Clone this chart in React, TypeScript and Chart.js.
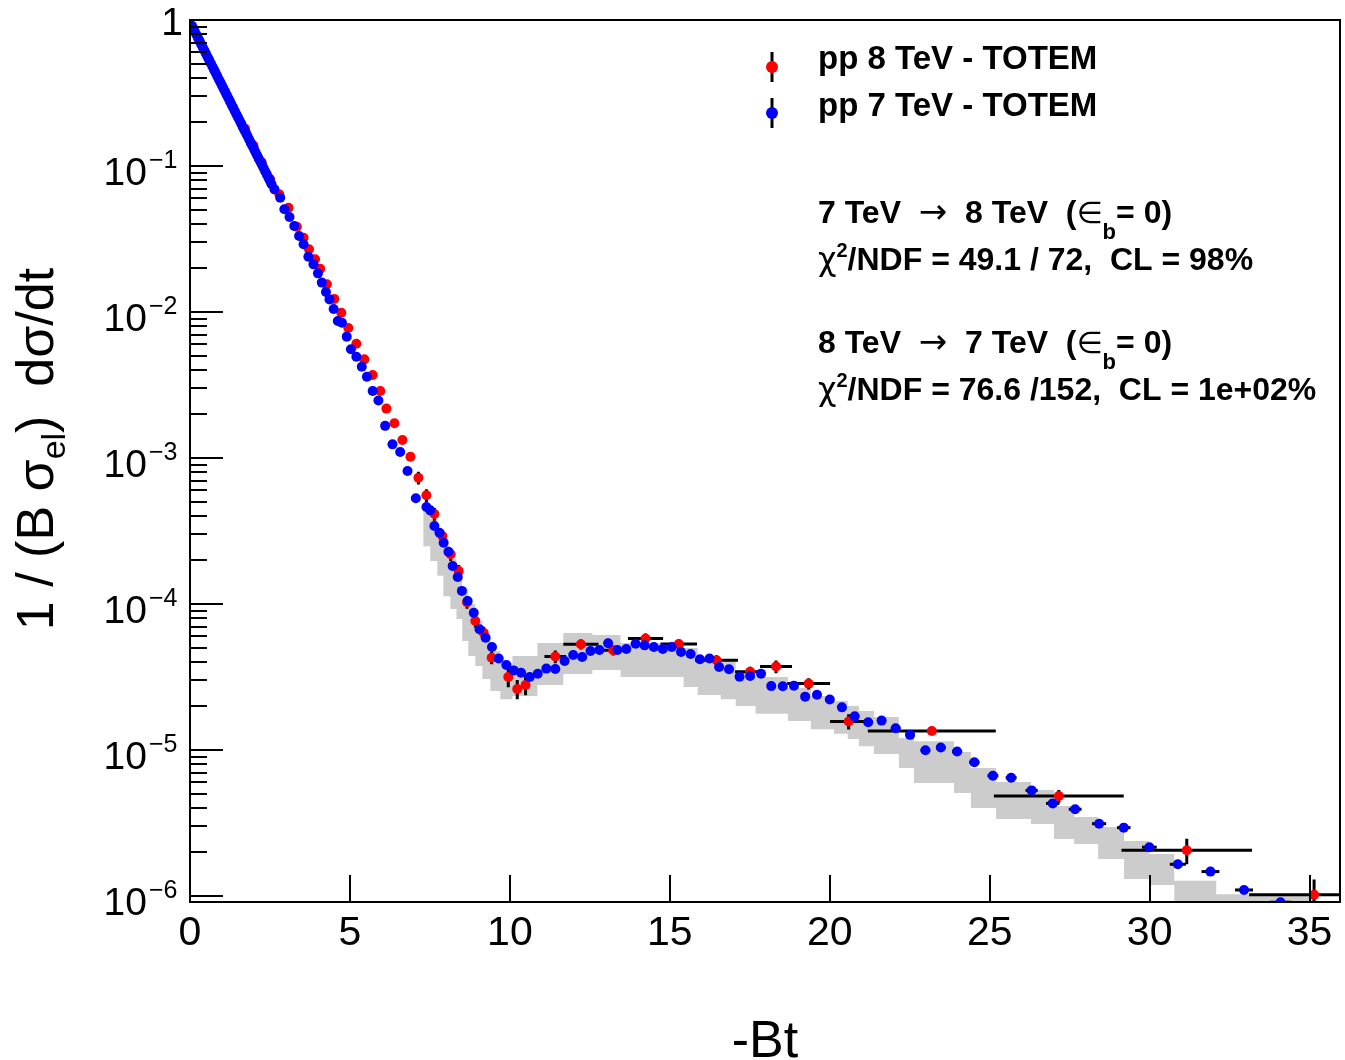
import React, { useEffect, useRef } from 'react';
import { Chart, registerables } from 'chart.js';

Chart.register(...registerables);

// ---------------- data ----------------
const xTickValues = [0, 5, 10, 15, 20, 25, 30, 35];
const yDecades = [0, -1, -2, -3, -4, -5, -6];
const X_MIN = 0;
const X_MAX = 35.95;
const Y_MIN = 9.1e-7;
const Y_MAX = 1;

const legendLabels = ['pp 8 TeV - TOTEM', 'pp 7 TeV - TOTEM'];
const xTitle = '-Bt';

// pp 7 TeV - TOTEM (blue)
const blueX = [
  0.06, 0.10, 0.15, 0.20, 0.25, 0.30, 0.35, 0.40, 0.45, 0.50,
  0.55, 0.60, 0.65, 0.70, 0.75, 0.80, 0.85, 0.90, 0.95, 1.00,
  1.05, 1.10, 1.15, 1.20, 1.25, 1.30, 1.35, 1.40, 1.45, 1.50,
  1.55, 1.60, 1.65, 1.70, 1.75, 1.80, 1.85, 1.90, 1.95, 2.00,
  2.05, 2.10, 2.15, 2.20, 2.25, 2.30, 2.35, 2.40, 2.45, 2.50, 2.55,
  2.64, 2.82, 2.95, 3.11, 3.26, 3.41, 3.55, 3.70, 3.86, 4.00,
  4.12, 4.25, 4.36, 4.49, 4.62, 4.75, 4.90, 5.03, 5.20, 5.37,
  5.53, 5.71, 5.89, 6.10, 6.33, 6.57, 6.80, 7.06, 7.39, 7.51,
  7.64, 7.80, 7.93, 8.08, 8.21, 8.37, 8.50, 8.68, 8.87, 9.05,
  9.24, 9.44, 9.65, 9.89, 10.12, 10.35, 10.62, 10.87, 11.14, 11.42,
  11.71, 11.98, 12.26, 12.52, 12.80, 13.07, 13.36, 13.64, 13.93, 14.21,
  14.50, 14.78, 15.06, 15.35, 15.65, 15.94, 16.24, 16.54, 16.85, 17.18,
  17.51, 17.85, 18.17, 18.53, 18.88, 19.23, 19.60, 20.00, 20.38, 20.78,
  21.20, 21.62, 22.06, 22.51, 22.99, 23.47, 23.98, 24.52, 25.10, 25.67,
  26.31, 26.97, 27.67, 28.42, 29.19, 29.99, 30.88, 31.90, 32.95, 34.09,
];
const blueY = [
  0.912, 0.876, 0.834, 0.793, 0.754, 0.717, 0.682, 0.649, 0.617, 0.587,
  0.558, 0.531, 0.505, 0.48, 0.457, 0.435, 0.413, 0.393, 0.374, 0.356,
  0.338, 0.322, 0.306, 0.291, 0.277, 0.263, 0.251, 0.238, 0.226, 0.216,
  0.205, 0.195, 0.185, 0.176, 0.168, 0.16, 0.152, 0.144, 0.137, 0.131,
  0.124, 0.118, 0.112, 0.107, 0.102, 0.0968, 0.092, 0.0876, 0.083, 0.0792, 0.075,
  0.0692, 0.0607, 0.0505, 0.0448, 0.0388, 0.0332, 0.0291, 0.0239, 0.0212, 0.0184,
  0.0159, 0.0137, 0.0122, 0.0105, 0.00867, 0.00845, 0.00678, 0.00556, 0.00494, 0.00422,
  0.0036, 0.00288, 0.00248, 0.00166, 0.00124, 0.0011, 8.15e-4, 5.3e-4, 4.62e-4, 4.38e-4,
  3.42e-4, 3.08e-4, 2.63e-4, 2.28e-4, 1.82e-4, 1.53e-4, 1.23e-4, 1.05e-4, 8.72e-5, 6.71e-5,
  5.88e-5, 5.07e-5, 4.24e-5, 3.82e-5, 3.51e-5, 3.38e-5, 3.16e-5, 3.33e-5, 3.61e-5, 3.59e-5,
  4.07e-5, 4.47e-5, 4.34e-5, 4.77e-5, 4.84e-5, 5.38e-5, 4.84e-5, 4.92e-5, 5.35e-5, 5.21e-5,
  5.07e-5, 4.92e-5, 5.07e-5, 4.69e-5, 4.55e-5, 4.18e-5, 4.24e-5, 3.7e-5, 3.57e-5, 3.18e-5,
  3.21e-5, 3.33e-5, 2.74e-5, 2.73e-5, 2.76e-5, 2.32e-5, 2.39e-5, 2.22e-5, 1.96e-5, 1.7e-5,
  1.55e-5, 1.59e-5, 1.41e-5, 1.27e-5, 9.96e-6, 1.04e-5, 9.77e-6, 8.25e-6, 6.67e-6, 6.46e-6,
  5.29e-6, 4.31e-6, 3.93e-6, 3.13e-6, 2.94e-6, 2.16e-6, 1.65e-6, 1.47e-6, 1.1e-6, 9.07e-7,
];
const blueXErr = [
  0, 0, 0, 0, 0, 0, 0, 0, 0, 0,
  0, 0, 0, 0, 0, 0, 0, 0, 0, 0,
  0, 0, 0, 0, 0, 0, 0, 0, 0, 0,
  0, 0, 0, 0, 0, 0, 0, 0, 0, 0,
  0, 0, 0, 0, 0, 0, 0, 0, 0, 0, 0,
  0.05, 0.05, 0.05, 0.05, 0.05, 0.05, 0.05, 0.05, 0.05, 0.05,
  0.05, 0.05, 0.05, 0.05, 0.05, 0.05, 0.05, 0.05, 0.05, 0.05,
  0.05, 0.05, 0.05, 0.05, 0.05, 0.05, 0.05, 0.08, 0.08, 0.08,
  0.08, 0.08, 0.08, 0.08, 0.08, 0.08, 0.08, 0.08, 0.08, 0.08,
  0.1, 0.1, 0.1, 0.1, 0.1, 0.1, 0.1, 0.1, 0.1, 0.1,
  0.12, 0.12, 0.12, 0.12, 0.12, 0.12, 0.12, 0.12, 0.12, 0.12,
  0.12, 0.12, 0.12, 0.12, 0.12, 0.12, 0.12, 0.12, 0.12, 0.12,
  0.13, 0.13, 0.13, 0.13, 0.13, 0.13, 0.13, 0.13, 0.13, 0.13,
  0.14, 0.14, 0.15, 0.15, 0.15, 0.15, 0.16, 0.16, 0.17, 0.17,
  0.19, 0.21, 0.2, 0.22, 0.21, 0.23, 0.25, 0.28, 0.28, 0.34,
];

// pp 8 TeV - TOTEM (red)
const redX = [
  1.72, 1.98, 2.24, 2.5, 2.79, 3.08, 3.34, 3.55, 3.72, 3.91,
  4.07, 4.28, 4.51, 4.73, 4.95, 5.2, 5.45, 5.71, 5.95, 6.14,
  6.39, 6.64, 6.89, 7.14, 7.39, 7.64, 7.89, 8.15, 8.4, 8.66,
  8.92, 9.18, 9.43, 9.95, 10.23, 10.49, 11.42, 12.22, 13.23, 14.24,
  15.28, 16.46, 17.51, 18.32, 19.34, 20.59, 23.19, 27.16, 31.16, 35.14,
];
const redY = [
  0.18, 0.138, 0.106, 0.0815, 0.064, 0.0518, 0.0384, 0.0323, 0.0269, 0.023,
  0.0198, 0.0155, 0.0123, 0.00989, 0.00777, 0.00607, 0.00474, 0.0037, 0.00288, 0.00218,
  0.00173, 0.00133, 0.00102, 7.33e-4, 5.56e-4, 4.13e-4, 2.92e-4, 2.19e-4, 1.68e-4, 1.03e-4,
  7.66e-5, 6.36e-5, 4.29e-5, 3.16e-5, 2.62e-5, 2.79e-5, 4.37e-5, 5.3e-5, 4.82e-5, 5.81e-5,
  5.32e-5, 4.12e-5, 3.44e-5, 3.73e-5, 2.85e-5, 1.57e-5, 1.35e-5, 4.84e-6, 2.06e-6, 1.02e-6,
];
const redXErr = [
  0.05, 0.05, 0.05, 0.05, 0.05, 0.05, 0.05, 0.05, 0.05, 0.05,
  0.05, 0.05, 0.05, 0.05, 0.05, 0.05, 0.05, 0.05, 0.05, 0.05,
  0.05, 0.05, 0.05, 0.12, 0.12, 0.12, 0.12, 0.12, 0.12, 0.12,
  0.12, 0.12, 0.12, 0.12, 0.12, 0.12, 0.34, 0.55, 0.45, 0.55,
  0.57, 0.67, 0.47, 0.5, 0.67, 0.58, 2.0, 2.03, 2.04, 2.03,
];
const redYErr = [
  0.02, 0.02, 0.02, 0.02, 0.02, 0.02, 0.02, 0.02, 0.02, 0.02,
  0.02, 0.02, 0.02, 0.02, 0.02, 0.02, 0.02, 0.02, 0.02, 0.02,
  0.02, 0.02, 0.02, 0.1, 0.1, 0.1, 0.1, 0.1, 0.1, 0.1,
  0.1, 0.1, 0.1, 0.15, 0.15, 0.15, 0.1, 0.08, 0.08, 0.08,
  0.08, 0.08, 0.08, 0.1, 0.09, 0.12, 0.05, 0.1, 0.2, 0.27,
];

// grey uncertainty band (stepped): left edges + final right edge
const bandEdges = [
  7.29, 7.51, 7.73, 7.92, 8.14, 8.33, 8.51, 8.7, 8.92, 9.14,
  9.39, 9.7, 10.08, 10.86, 11.67, 12.58, 13.46, 15.43, 15.87, 16.59,
  17.06, 17.68, 18.69, 19.41, 20.13, 20.56, 20.91, 21.38, 22.16, 22.63,
  23.88, 24.41, 25.2, 26.29, 27.01, 27.64, 28.39, 29.2, 29.98, 30.77,
  32.08, 33.8, 35.12,
];
const bandHi = [
  5.07e-4, 4.48e-4, 3.82e-4, 3.16e-4, 2.49e-4, 2.03e-4, 1.63e-4, 1.27e-4, 1.0e-4, 7.65e-5,
  6.04e-5, 4.77e-5, 3.94e-5, 4.4e-5, 5.41e-5, 6.33e-5, 6.13e-5, 5.41e-5, 5.0e-5, 4.27e-5,
  4.07e-5, 3.37e-5, 3.16e-5, 2.66e-5, 2.34e-5, 2.17e-5, 2.0e-5, 1.85e-5, 1.68e-5, 1.21e-5,
  1.15e-5, 9.68e-6, 7.53e-6, 6.04e-6, 5.32e-6, 4.13e-6, 3.48e-6, 2.97e-6, 2.38e-6, 1.94e-6,
  1.27e-6, 1.03e-6,
];
const bandLo = [
  3.06e-4, 2.49e-4, 1.97e-4, 1.56e-4, 1.13e-4, 9.25e-5, 7.89e-5, 5.58e-5, 4.4e-5, 3.76e-5,
  3.06e-5, 2.54e-5, 2.23e-5, 2.34e-5, 2.79e-5, 3.32e-5, 3.53e-5, 3.16e-5, 2.7e-5, 2.38e-5,
  2.23e-5, 2.0e-5, 1.77e-5, 1.58e-5, 1.39e-5, 1.29e-5, 1.19e-5, 1.06e-5, 9.39e-6, 7.53e-6,
  5.95e-6, 5.07e-6, 4.01e-6, 3.37e-6, 3.11e-6, 2.46e-6, 2.27e-6, 1.79e-6, 1.31e-6, 1.19e-6,
  8.54e-7, 7.89e-7,
];

// ---------------- helpers ----------------
const FONT = '"Liberation Sans", Arial, Helvetica, sans-serif';
const SYM = '"DejaVu Sans", "Liberation Sans", sans-serif';

type Run = { t: string; font: string; dy?: number; dx?: number };

function drawRuns(ctx: CanvasRenderingContext2D, runs: Run[], x: number, y: number) {
  let cx = x;
  for (const r of runs) {
    ctx.font = r.font;
    ctx.fillText(r.t, cx, y + (r.dy || 0));
    cx += ctx.measureText(r.t).width + (r.dx || 0);
  }
  return cx;
}

function runsWidth(ctx: CanvasRenderingContext2D, runs: Run[]) {
  let w = 0;
  for (const r of runs) {
    ctx.font = r.font;
    w += ctx.measureText(r.t).width + (r.dx || 0);
  }
  return w;
}

function stepData(edges: number[], vals: number[]) {
  const pts = vals.map((v, i) => ({ x: edges[i], y: v }));
  pts.push({ x: edges[edges.length - 1], y: vals[vals.length - 1] });
  return pts;
}

const errorBarsPlugin = {
  id: 'errorBars',
  beforeDatasetDraw(chart: any, args: any) {
    if (args.index !== 1) return;
    const { ctx, chartArea } = chart;
    const xs = chart.scales.x;
    const ys = chart.scales.y;
    ctx.save();
    ctx.beginPath();
    ctx.rect(chartArea.left, chartArea.top, chartArea.right - chartArea.left, chartArea.bottom - chartArea.top);
    ctx.clip();
    ctx.strokeStyle = '#000';
    ctx.lineWidth = 3;
    ctx.lineCap = 'butt';
    redX.forEach((x, i) => {
      const y = redY[i];
      const py = ys.getPixelForValue(y);
      ctx.beginPath();
      ctx.moveTo(xs.getPixelForValue(x - redXErr[i]), py);
      ctx.lineTo(xs.getPixelForValue(x + redXErr[i]), py);
      const px = xs.getPixelForValue(x);
      ctx.moveTo(px, ys.getPixelForValue(y * (1 + redYErr[i])));
      ctx.lineTo(px, ys.getPixelForValue(y * (1 - redYErr[i])));
      ctx.stroke();
    });
    blueX.forEach((x, i) => {
      if (!blueXErr[i]) return;
      const py = ys.getPixelForValue(blueY[i]);
      ctx.beginPath();
      ctx.moveTo(xs.getPixelForValue(x - blueXErr[i]), py);
      ctx.lineTo(xs.getPixelForValue(x + blueXErr[i]), py);
      ctx.stroke();
    });
    ctx.restore();
  },
};

const framePlugin = {
  id: 'rootFrame',
  afterDraw(chart: any) {
    const { ctx, chartArea } = chart;
    const xs = chart.scales.x;
    const ys = chart.scales.y;
    const { left, right, top, bottom } = chartArea;
    ctx.save();
    ctx.strokeStyle = '#000';
    ctx.fillStyle = '#000';
    ctx.lineWidth = 2;
    ctx.strokeRect(left, top, right - left, bottom - top);

    ctx.beginPath();
    xTickValues.forEach((v) => {
      const px = Math.round(xs.getPixelForValue(v));
      ctx.moveTo(px, bottom);
      ctx.lineTo(px, bottom - 27);
    });
    for (let d = -7; d <= 0; d++) {
      for (let m = 1; m <= 9; m++) {
        const v = m * Math.pow(10, d);
        if (v < Y_MIN * 0.999 || v > Y_MAX * 1.001) continue;
        const py = Math.round(ys.getPixelForValue(v));
        ctx.moveTo(left, py);
        ctx.lineTo(left + (m === 1 ? 33 : 17), py);
      }
    }
    ctx.stroke();

    ctx.textAlign = 'center';
    ctx.textBaseline = 'alphabetic';
    ctx.font = `41px ${FONT}`;
    xTickValues.forEach((v) => {
      ctx.fillText(String(v), xs.getPixelForValue(v), 945);
    });

    yDecades.forEach((d) => {
      const py = ys.getPixelForValue(Math.pow(10, d));
      if (d === 0) {
        ctx.textAlign = 'right';
        ctx.font = `39px ${FONT}`;
        ctx.fillText('1', 183, 35);
        return;
      }
      ctx.textAlign = 'right';
      ctx.font = `39px ${FONT}`;
      ctx.fillText('10', 147, py + 19);
      ctx.textAlign = 'left';
      ctx.font = `25px ${FONT}`;
      ctx.fillText('\u2212' + String(-d), 149, py + 2);
    });

    ctx.textAlign = 'center';
    ctx.font = `52px ${FONT}`;
    ctx.fillText(xTitle, (left + right) / 2, 1057);

    ctx.textAlign = 'left';
    const yRuns: Run[] = [
      { t: '1 / (B \u03c3', font: `52px ${FONT}` },
      { t: 'el', font: `34px ${FONT}`, dy: 12 },
      { t: ')  d\u03c3/dt', font: `52px ${FONT}` },
    ];
    const w = runsWidth(ctx, yRuns);
    ctx.save();
    ctx.translate(53, 449);
    ctx.rotate(-Math.PI / 2);
    drawRuns(ctx, yRuns, -w / 2, 0);
    ctx.restore();

    const legColors = ['#ff0000', '#0000ff'];
    const legMarkY = [67, 113];
    const legTextY = [69, 116];
    legendLabels.forEach((lab, i) => {
      ctx.strokeStyle = '#000';
      ctx.lineWidth = 3;
      ctx.beginPath();
      ctx.moveTo(772, legMarkY[i] - 15);
      ctx.lineTo(772, legMarkY[i] + 15);
      ctx.stroke();
      ctx.fillStyle = legColors[i];
      ctx.beginPath();
      ctx.arc(772, legMarkY[i], 6, 0, Math.PI * 2);
      ctx.fill();
      ctx.fillStyle = '#000';
      ctx.textAlign = 'left';
      ctx.font = `bold 33px ${FONT}`;
      ctx.fillText(lab, 818, legTextY[i]);
    });

    const B = `bold 32px ${FONT}`;
    const arrowFont = `34px ${SYM}`;
    const drawTransfer = (a: string, b: string, y: number) => {
      drawRuns(ctx, [
        { t: a + '  ', font: B },
        { t: '\u2192', font: arrowFont },
        { t: '  ' + b + '  (', font: B },
        { t: '\u2208', font: `30px ${SYM}` },
        { t: 'b', font: `bold 22px ${FONT}`, dy: 16 },
        { t: '= 0)', font: B },
      ], 818, y);
    };
    const drawChi = (rest: string, y: number) => {
      drawRuns(ctx, [
        { t: '\u03c7', font: `32px ${SYM}` },
        { t: '2', font: `bold 20px ${FONT}`, dy: -13 },
        { t: rest, font: B },
      ], 818, y);
    };
    drawTransfer('7 TeV', '8 TeV', 223);
    drawChi('/NDF = 49.1 / 72,  CL = 98%', 270);
    drawTransfer('8 TeV', '7 TeV', 353);
    drawChi('/NDF = 76.6 /152,  CL = 1e+02%', 400);

    ctx.restore();
  },
};

export default function App() {
  const ref = useRef<HTMLCanvasElement>(null);

  useEffect(() => {
    if (!ref.current) return;
    const chart = new Chart(ref.current, {
      type: 'scatter',
      data: {
        datasets: [
          {
            label: legendLabels[1],
            data: blueX.map((x, i) => ({ x, y: blueY[i] })),
            pointRadius: 5,
            pointBackgroundColor: '#0000ff',
            pointBorderWidth: 0,
            pointBorderColor: '#0000ff',
            showLine: false,
            order: 0,
          },
          {
            label: legendLabels[0],
            data: redX.map((x, i) => ({ x, y: redY[i] })),
            pointRadius: 5,
            pointBackgroundColor: '#ff0000',
            pointBorderWidth: 0,
            pointBorderColor: '#ff0000',
            showLine: false,
            order: 1,
          },
          {
            label: 'band hi',
            data: stepData(bandEdges, bandHi),
            showLine: true,
            stepped: 'after',
            pointRadius: 0,
            borderWidth: 0,
            borderColor: 'rgba(0,0,0,0)',
            fill: false,
            order: 3,
          },
          {
            label: 'band lo',
            data: stepData(bandEdges, bandLo),
            showLine: true,
            stepped: 'after',
            pointRadius: 0,
            borderWidth: 0,
            borderColor: 'rgba(0,0,0,0)',
            backgroundColor: '#cccccc',
            fill: '-1',
            order: 2,
          },
        ] as any,
      },
      options: {
        animation: false,
        responsive: false,
        devicePixelRatio: 1,
        layout: { padding: { left: 190, top: 20, right: 5, bottom: 158 } },
        plugins: {
          legend: { display: false },
          tooltip: { enabled: false },
        },
        events: [],
        scales: {
          x: { type: 'linear', min: X_MIN, max: X_MAX, display: false },
          y: { type: 'logarithmic', min: Y_MIN, max: Y_MAX, display: false },
        },
      } as any,
      plugins: [errorBarsPlugin, framePlugin],
    });
    return () => chart.destroy();
  }, []);

  return (
    <div style={{ position: 'fixed', left: 0, top: 0, width: 1345, height: 1060, background: '#fff' }}>
      <canvas ref={ref} width={1345} height={1060} style={{ display: 'block', width: 1345, height: 1060 }} />
    </div>
  );
}
